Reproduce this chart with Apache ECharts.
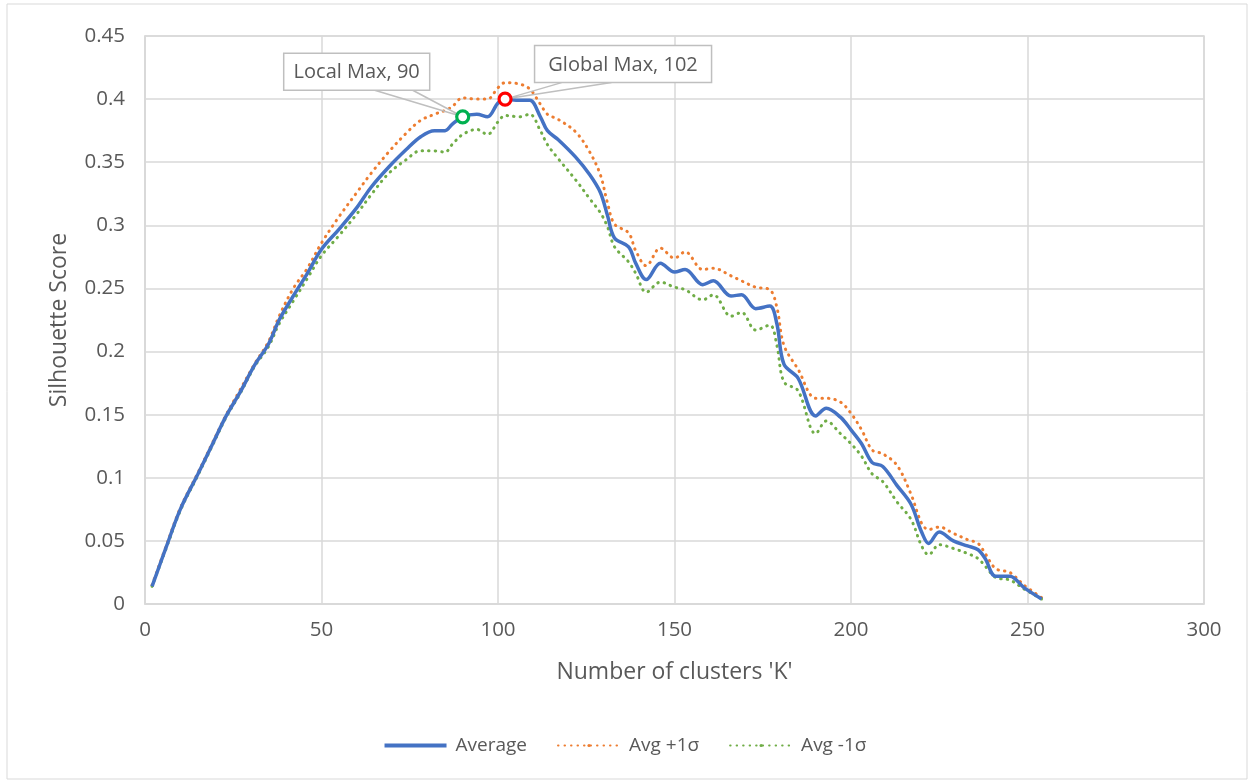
<!DOCTYPE html>
<html><head><meta charset="utf-8">
<script src="https://cdn.jsdelivr.net/npm/echarts@6/dist/echarts.min.js"></script>
<style>html,body{margin:0;padding:0;background:#fff}#c{width:1251px;height:783px}</style>
</head><body><div id="c"></div>
<script>
var kValues = [2,6,10,15,19,23,27,31,35,38,42,46,50,55,60,64,69,74,78,82,85,87,90,94,97,100,102,106,109,112,114,117,122,126,129,131,133,137,139,142,146,150,153,158,161,166,169,173,177,179,181,185,190,193,197,200,203,206,209,213,217,220,222,225,229,233,236,238,241,245,249,254];
var average = [0.014,0.045,0.075,0.103,0.126,0.149,0.168,0.189,0.206,0.225,0.244,0.262,0.281,0.297,0.314,0.330,0.346,0.360,0.370,0.375,0.375,0.380,0.386,0.388,0.386,0.397,0.400,0.399,0.399,0.386,0.375,0.368,0.354,0.340,0.326,0.308,0.290,0.283,0.270,0.257,0.270,0.263,0.265,0.253,0.256,0.244,0.245,0.234,0.236,0.222,0.190,0.179,0.149,0.155,0.148,0.138,0.127,0.112,0.109,0.094,0.079,0.057,0.048,0.057,0.050,0.046,0.043,0.036,0.022,0.022,0.013,0.004];
var plusSigma = [0.015,0.046,0.076,0.104,0.127,0.150,0.170,0.190,0.208,0.228,0.250,0.266,0.286,0.307,0.326,0.341,0.358,0.373,0.383,0.388,0.391,0.394,0.401,0.400,0.400,0.409,0.413,0.412,0.408,0.396,0.388,0.384,0.374,0.358,0.340,0.318,0.301,0.294,0.280,0.268,0.282,0.274,0.279,0.265,0.266,0.260,0.256,0.251,0.249,0.235,0.205,0.186,0.163,0.163,0.160,0.151,0.138,0.122,0.119,0.110,0.087,0.064,0.059,0.061,0.056,0.051,0.048,0.040,0.028,0.025,0.015,0.005];
var minusSigma = [0.014,0.044,0.074,0.102,0.125,0.148,0.167,0.188,0.204,0.222,0.240,0.258,0.276,0.292,0.309,0.324,0.341,0.352,0.359,0.359,0.358,0.364,0.372,0.376,0.372,0.382,0.387,0.386,0.388,0.375,0.364,0.353,0.336,0.321,0.310,0.299,0.283,0.271,0.262,0.247,0.255,0.251,0.249,0.241,0.245,0.228,0.231,0.217,0.221,0.205,0.176,0.169,0.135,0.145,0.135,0.127,0.117,0.103,0.097,0.081,0.067,0.046,0.039,0.047,0.044,0.040,0.036,0.030,0.021,0.019,0.012,0.004];
var seriesNames = ['Average','Avg +1σ','Avg -1σ'];
var markLabels = ['Local Max, 90','Global Max, 102'];
var markK = [90, 102];
var markY = [0.386, 0.400];

var FONT = '"Open Sans", "Noto Sans", sans-serif';
var TXT = '#595959';
function pairs(ys){ return kValues.map(function(k,i){ return [k, ys[i]]; }); }
var markColors = ['#00B050','#FF0000'];
var callout = [
  {dx:-106, dy:-45, w:146, h:37, b0:91, b1:129},
  {dx:118, dy:-35, w:177, h:37, b0:27, b1:77}
];
var dotted = {width:3, type:[0.5,6], cap:'round'};

var chart = echarts.init(document.getElementById('c'), null, {renderer:'canvas'});
chart.setOption({
  animation:false,
  backgroundColor:'#fff',
  textStyle:{fontFamily:FONT},
  graphic:[{type:'rect', shape:{x:7,y:4,width:1240,height:775}, style:{fill:'none', stroke:'#d9d9d9', lineWidth:1}, z:-1}],
  grid:{left:145, right:47, top:36, bottom:179, show:true, borderColor:'#d9d9d9', borderWidth:1.5},
  legend:{
    bottom:23, left:'center', itemWidth:62, itemHeight:4, itemGap:30,
    textStyle:{color:TXT, fontSize:19, fontFamily:FONT, padding:[0,0,0,4]},
    data:[
      {name:seriesNames[0], icon:'path://M0,0H62V4H0Z'},
      {name:seriesNames[1]},
      {name:seriesNames[2]}
    ]
  },
  xAxis:{
    type:'value', min:0, max:300, interval:50,
    name:"Number of clusters 'K'", nameLocation:'middle', nameGap:57,
    nameTextStyle:{color:TXT, fontSize:23, fontFamily:FONT},
    axisLine:{show:true, lineStyle:{color:'#d9d9d9', width:1.5}},
    axisTick:{show:false},
    axisLabel:{color:TXT, fontSize:20.5, margin:16, fontFamily:FONT},
    splitLine:{show:true, lineStyle:{color:'#d9d9d9', width:1.5}}
  },
  yAxis:{
    type:'value', min:0, max:0.45, interval:0.05,
    name:'Silhouette Score', nameLocation:'middle', nameGap:74,
    nameTextStyle:{color:TXT, fontSize:23, fontFamily:FONT},
    axisLine:{show:true, lineStyle:{color:'#d9d9d9', width:1.5}},
    axisTick:{show:false},
    axisLabel:{color:TXT, fontSize:20.5, margin:20, fontFamily:FONT,
      formatter:function(v){ return String(parseFloat(v.toFixed(2))); }},
    splitLine:{show:true, lineStyle:{color:'#d9d9d9', width:1.5}}
  },
  series:[
    {name:seriesNames[1], type:'line', data:pairs(plusSigma), smooth:0.35, showSymbol:false, symbol:'none',
      itemStyle:{color:'#ED7D31'}, lineStyle:Object.assign({color:'#ED7D31'}, dotted), z:2},
    {name:seriesNames[2], type:'line', data:pairs(minusSigma), smooth:0.35, showSymbol:false, symbol:'none',
      itemStyle:{color:'#70AD47'}, lineStyle:Object.assign({color:'#70AD47'}, dotted), z:2},
    {name:seriesNames[0], type:'line', data:pairs(average), smooth:0.35, showSymbol:false, symbol:'none',
      itemStyle:{color:'#4472C4'}, lineStyle:{color:'#4472C4', width:3.5}, z:3},
    {type:'custom', z:5, silent:true,
      data:markK.map(function(k,i){ return [k, markY[i]]; }),
      renderItem:function(params, api){
        var i = params.dataIndex;
        var p = api.coord([api.value(0), api.value(1)]);
        var o = callout[i];
        var cx = p[0]+o.dx, cy = p[1]+o.dy;
        var left = cx - o.w/2, top = cy - o.h/2, bottom = top + o.h;
        return {type:'group', children:[
          {type:'polyline', shape:{points:[[left+o.b0,bottom],[p[0],p[1]],[left+o.b1,bottom]]},
            style:{fill:null, stroke:'#bfbfbf', lineWidth:1.5}},
          {type:'rect', shape:{x:left, y:top, width:o.w, height:o.h},
            style:{fill:'#fff', stroke:'#bfbfbf', lineWidth:1.5}},
          {type:'text', style:{text:markLabels[i], x:cx, y:cy+1, align:'center', verticalAlign:'middle',
            font:'20px ' + FONT, fill:TXT}},
          {type:'circle', shape:{cx:p[0], cy:p[1], r:6},
            style:{fill:'#fff', stroke:markColors[i], lineWidth:3.2}}
        ]};
      }
    }
  ]
});
</script></body></html>
